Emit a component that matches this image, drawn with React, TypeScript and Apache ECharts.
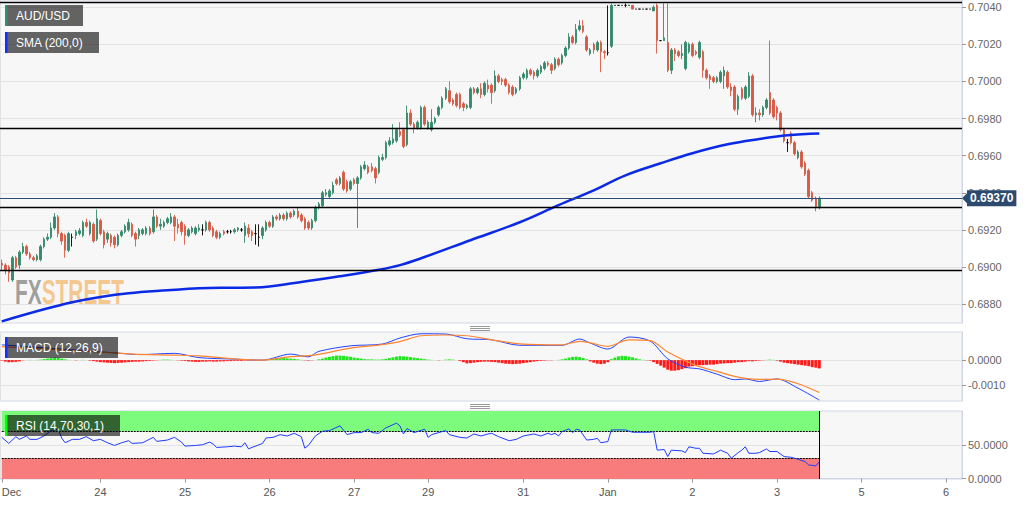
import React, { useEffect, useRef } from "react";
import * as echarts from "echarts";

// hourly candles, prices in pips (x 0.0001): [open, high, low, close]
const ohlc: number[][] = [
  [6902,6904,6898,6901],[6901,6902,6896,6898],[6900,6901,6892,6897],[6893,6906,6892,6905],[6905,6906,6899,6900],[6901,6909,6899,6908],
  [6908,6913,6907,6911],[6911,6912,6906,6907],[6907,6908,6904,6905],[6905,6906,6903,6904],[6904,6907,6903,6906],[6904,6912,6903,6911],
  [6911,6916,6910,6915],[6915,6918,6914,6916],[6916,6924,6915,6921],[6921,6929,6920,6927],[6927,6928,6916,6918],[6918,6919,6912,6914],
  [6917,6918,6905,6909],[6909,6919,6908,6918],[6916,6918,6911,6916],[6917,6920,6915,6919],[6918,6921,6917,6919.5],[6917,6925,6916,6924],
  [6924,6926,6921,6922],[6918,6925,6917,6924],[6923,6924,6913,6914],[6915,6931,6914,6926],[6925,6926,6917,6918],[6919,6920,6910,6912],
  [6915,6919,6913,6918],[6917,6918,6911,6913],[6916,6917,6910,6912],[6912,6918,6911,6917],[6917,6920,6916,6919],[6919,6923,6918,6922],
  [6920,6926,6919,6924],[6923,6924,6916,6917],[6918,6919,6911,6915],[6917,6921,6915,6920],[6918,6921,6917,6920],[6918,6922,6917,6921],
  [6921,6922,6917,6918],[6919,6931,6918,6927],[6927,6928,6921,6922],[6922,6926,6920,6923],[6922,6925,6921,6924],[6924,6927,6923,6926],
  [6924,6929,6923,6927],[6927,6928,6914,6922],[6923,6926,6918,6921],[6924,6925,6917,6919],[6922,6923,6912,6917],[6917,6921,6916,6920],
  [6919,6922,6918,6921],[6918,6922,6917,6921],[6920,6923,6919,6921],[6920,6923,6917,6920],[6920,6925,6919,6924],[6924,6925,6919,6920],
  [6921,6922,6916,6917],[6919,6920,6915,6916],[6916,6919,6915,6918],[6919,6920,6917,6918],[6919,6920,6918,6919],[6919,6920,6918,6919],
  [6919,6921,6918,6920],[6920,6921.5,6919,6921],[6920,6921,6919,6920],[6917,6924,6913,6922],[6921,6923,6916,6918],[6919,6920,6914,6917],
  [6918,6923,6912,6918],[6916,6923,6911,6916],[6917,6922,6915,6921],[6920,6925,6919,6924],[6924,6925,6921,6922],[6922,6928,6921,6927],
  [6927,6928,6925,6926],[6926,6929,6925,6928],[6928,6929,6925,6926],[6926,6930,6925,6929],[6929,6930,6926,6927],[6928,6931,6927,6930],
  [6930,6932,6926,6927],[6928,6929,6924,6925],[6926,6927,6920,6921],[6924,6925,6920,6921],[6921,6926,6920,6925],[6925,6933,6924,6932],
  [6932,6935,6931,6934],[6933,6941,6932,6940],[6939,6942,6938,6940],[6938,6942,6937,6941],[6940,6946,6939,6944],[6947,6948,6944,6945],
  [6945,6949,6944,6948],[6951,6952,6941,6942],[6946,6947,6940,6941],[6942,6947,6941,6946],[6947,6948,6944,6945],[6945,6949,6921,6948],
  [6948,6955,6947,6954],[6953,6957,6952,6955],[6954,6955,6950,6951],[6954,6956,6951,6952],[6953,6954,6945,6948],[6951,6960,6950,6959],
  [6958,6961,6957,6959],[6959,6968,6958,6967],[6966,6970,6965,6968],[6967,6977,6966,6969],[6968,6975,6967,6974],[6973,6978,6970,6971],
  [6974,6975,6964,6965],[6966,6987,6965,6983],[6983,6985,6976,6977],[6977,6978,6972,6975],[6975,6979,6974,6978],[6975,6987,6974,6986],
  [6986,6987,6976,6977],[6975,6979,6974,6978],[6974,6985,6973,6978],[6978,6981,6977,6980],[6982,6987,6981,6986],[6986,6992,6985,6991],
  [6991,6997,6990,6996],[6995,7000,6988,6989],[6990,6991,6987,6988],[6993,6994,6986,6987],[6993,6994,6985,6986],[6988,6989,6984,6986],
  [6986,6988,6985,6987],[6986,6997,6985,6996],[6996,6997,6993,6994],[6994,6997,6993,6996],[6996,6999,6991,6993],[6993,7000,6992,6999],
  [6998,7001,6994,6996],[6998,6999,6988,6994],[6995,7006,6994,7003],[7003,7004,6999,7000],[7001,7002,6998,7000],[7001,7002,6997,6998],
  [6998,6999,6993,6994],[6997,6998,6992,6993],[6994,6997,6993,6996],[6996,7003,6995,7002],[7002,7005,7001,7004],[7002,7007,7001,7006],
  [7006,7007,7003,7004],[7005,7006,7001,7003],[7003,7007,7002,7006],[7005,7009,7004,7008],[7007,7011,7006,7010],[7010,7011,7008,7009],
  [7009,7010,7004,7006],[7007,7013,7006,7012],[7012,7013,7008,7009],[7010,7015,7009,7014],[7014,7019,7013,7018],[7018,7026,7017,7024],
  [7024,7025,7020,7021],[7021,7031,7020,7028],[7028,7033,7027,7030],[7030,7033,7026,7027],[7024,7025,7016,7017],[7015,7018,7014,7017],
  [7020,7021,7015,7017],[7017,7022,7016,7021],[7021,7022,7005,7016],[7016,7017,7012,7015.5],[7015.5,7041,7014,7015.5],[7019,7042,7018,7041],
  [7041,7041,7041,7041],[7041,7041,7041,7041],[7041,7041,7041,7041],[7041,7042,7040,7041],[7041,7041,7041,7041],[7041,7041,7039,7039],
  [7039,7039,7039,7039],[7039,7039,7039,7039],[7039,7039,7039,7039],[7039,7039,7039,7039],[7039,7039,7039,7039],[7038,7041,7038,7040],
  [7041,7042,7015,7022],[7022,7022,7022,7022],[7022,7042,7022,7023.5],[7021,7042,7005,7006],[7006,7018,7004,7017],[7017,7018,7011,7015],
  [7016,7017,7013,7014],[7014,7020,7012,7015],[7007,7022,7006,7021],[7016,7021,7015,7020],[7020,7021,7013,7014],[7016,7017,7014,7015],
  [7013,7022,7012,7021],[7016,7017,7002,7006],[7006,7007,7001,7002],[7003,7004,6996,7001],[7002,7003,6999,7000],[7000,7003,6999,7002],
  [7000,7006,6999,7005],[7003,7008,6996,7006],[7005,7006,6996,6997],[6997,6999,6992,6995],[6997,6998,6984,6985],[6985,6993,6982,6992],
  [6996,6997,6990,6991],[6991,6998,6990,6997],[6992,7005,6991,7003],[7003,7004,6981,6982],[6982,6986,6978,6983],[6983,6985,6979,6982],
  [6982,6987,6981,6986],[6986,6991,6985,6990],[6994,7022,6982,6983],[6990,6991,6980,6981],[6986,6987,6979,6983],[6983,6984,6973,6974],
  [6974,6975,6967,6968],[6967,6969,6962,6967],[6972,6973,6966,6967],[6967,6968,6960,6961],[6959,6963,6958,6962],[6962,6963,6953,6954],
  [6956,6957,6949,6950],[6952,6953,6937,6938],[6940,6941,6935,6936],[6937,6938,6930,6932],[6932,6938,6931,6937],
];

// SMA(200) read at [candle index, pips]
const smaPts: number[][] = [
  [0,6870.7],[12,6877.2],[20,6881],[28,6883.8],[36,6885.8],[47,6887.4],[56,6888.5],[65,6888.8],[72,6888.9],
  [85,6891.9],[96,6895],[107,6898.5],[113,6901],[119,6904.7],[133,6914.4],[147,6924.1],[158,6933.3],[168,6941.3],
  [177,6949.4],[187,6955.9],[196,6961.3],[206,6966.1],[215,6969],[223,6971],[232,6971.9],
];

// MACD (12,26,9)
const macdIdx = [0,33,39,49,56,66,74,82,87,90,99,108,113,119,126,132,139,147,159,164,167,172,178,184,189,194,198,203,208,211,215,220,226,232];
const macdVal = [0.00061,0.00028,0.00022,0.00027,0.0001,0.00004,0,0.00024,0.00013,0.00035,0.00057,0.00064,0.00088,0.00105,0.00104,0.00085,0.00081,0.00059,0.00059,0.00084,0.00068,0.00044,0.00092,0.00076,0.00005,-0.00028,-0.00035,-0.00056,-0.00078,-0.00075,-0.00085,-0.00075,-0.00112,-0.00159];
const signalVal = [0.00054,0.00028,0.00023,0.0002,0.00017,0.00005,0,0.00014,0.00018,0.00023,0.00048,0.00062,0.00074,0.00097,0.001,0.00097,0.00081,0.00065,0.00061,0.00075,0.00069,0.00055,0.00081,0.00078,0.00032,-0.00003,-0.00026,-0.00045,-0.00065,-0.00073,-0.00077,-0.00076,-0.00094,-0.00129];
// histogram, one bar per candle, in units of 0.00001
const histVal = [
  -2, -6,-8,-8,-7,-5, -1,0,1,0,1,2, 4,6,8,10,9,6,3, 1,0,-1,0,1,0,-2,
  -4,-6,-8,-9,-10,-11,-12,-11,-10,-9,-8,-7,-6,-6,-5,-4,-3,-2,
  -1,1,2,2,1,0,-1,-2, -3,-5,-6,-7,-7,-6,-6,-5,-6,-6,-5,-5,-4,-4,
  -3,-3,-3,-2,-2,-2,-1,-1,0, 1,3,5,7,8,8,7,6,5,3,1, -1,-2,-1,
  0,3,6,10,13,16,18,18,17,15,13,10,8,6, 4,3,3,2,2,3, 5,8,11,14,16,15,14,12,10,8,6,4,
  2,1,0,-1,0,2,3,2,0, -3,-8,-13,-12,-10,-8,-7,-6,-6,-7,-8,-10,-12,-14,-15,-16,-15,
  -14,-12,-10,-8,-6,-4,-3, -2,-1,-1,0,1,3,6, 10,13,14,12,8,3, -5,-10,-14,-16,-14,-8,
  4,10,15,17,16,14,11,7,3, 1,-1,-2, -8,-15,-22,-30,-38,-42,-42,-40,-36,-32,-26,
  -24,-22,-20,-20,-19,-18,-18,-16,-14,-13,-12,-12,-10,-8,-8, -6,-4,-5,-3,-2,-1,1,2,1,-2,
  -6,-10,-12,-14,-16,-18,-20,-22,-24,-28,-30,-33,
];

// RSI (14) read at [candle index, value]
const rsiPts: number[][] = [
  [0,61],[2,52],[4,62],[5,58],[7,63],[8,58],[10,58],[12,63],[14,71],[16,73],[17,60],[18,53],[20,58],[22,58],[24,62],[26,56],
  [28,58],[30,53],[32,49],[34,53],[36,56],[37,52],[40,53],[43,61],[44,55],[47,57],[49,61],[51,54],[52,48],[55,49],[57,50],
  [59,54],[60,51],[61,46],[64,47],[66,48],[68,47],[69,53],[70,44],[72,48],[74,52],[75,60],[77,61],[79,65],[81,63],[83,67],
  [85,62],[86,45],[87,49],[89,63],[91,70],[93,71],[96,78],[98,65],[100,68],[102,68],[104,73],[105,68],[107,67],[109,75],
  [112,82],[113,78],[114,66],[115,74],[117,68],[120,73],[121,61],[122,65],[126,71],[127,65],[130,61],[132,60],[134,66],
  [136,63],[138,66],[139,67],[141,62],[144,56],[146,58],[148,63],[151,66],[153,63],[155,67],[156,65],[157,67],[158,63],
  [159,69.5],[161,73.5],[162,68],[163,73],[164,72],[166,57],[168,58],[169,59.6],[170,53],[172,54.7],[173,72],[177,72],
  [179,68.5],[184,68.5],[185,69.5],[186,42],[188,43],[189,32.5],[190,42],[193,41],[194,38.4],[195,47],[197,44.8],[198,44.8],
  [199,37.4],[202,36.4],[204,42],[206,37.4],[207,30],[209,38.4],[210,42],[211,47],[212,37.4],[214,37.4],[215,38.4],
  [217,43.8],[218,40],[220,40],[222,32.5],[224,31.5],[226,28.5],[228,25],[229,20],[230,19.6],[231,18.6],[232,25],
];

const levels = [0.70425, 0.69748, 0.69322, 0.68982];
const lastPrice = 0.6937;
const priceTicks = [0.688, 0.69, 0.692, 0.694, 0.696, 0.698, 0.7, 0.702, 0.704];
const macdTicks = [-0.001, 0];
const rsiTicks = [0, 50];
const tickIdx = [0, 28, 52, 76, 100, 121, 148, 172, 196, 220, 244, 268];
const tickLabels = ["Dec", "24", "25", "26", "27", "29", "31", "Jan", "2", "3", "5", "6"];
const SLOTS = 273;
const JAN_IDX = 172;

const UP = "#35896b";
const DOWN = "#d65a45";
const FONT = '"Liberation Sans", Arial, sans-serif';

export default function App() {
  const ref = useRef<HTMLDivElement>(null);
  useEffect(() => {
    document.body.style.margin = "0";
    const chart = echarts.init(ref.current!, null, { renderer: "svg" });
    const cats = Array.from({ length: SLOTS }, (_, i) => String(i));
    const lastIdx = ohlc.length - 1;
    const isTick = (i: number) => tickIdx.indexOf(i) >= 0;

    const gridBase = { left: 0, width: 962, show: true, backgroundColor: "#f7f7f7", borderColor: "#d3d8e5", borderWidth: 1, containLabel: false, outerBoundsMode: "none" };
    const xAxisFor = (gi: number) => ({
      type: "category", gridIndex: gi, data: cats, boundaryGap: true,
      axisLine: { show: gi === 2, lineStyle: { color: "#cfd5e3" } },
      axisTick: { show: gi === 2, interval: (i: number) => isTick(i), alignWithLabel: true, length: 4, lineStyle: { color: "#999" } },
      axisLabel: {
        show: gi === 2, interval: (i: number) => isTick(i), color: "#555", fontSize: 11, margin: 7, fontFamily: FONT,
        alignMinLabel: "left",
        formatter: (v: string) => { const k = tickIdx.indexOf(Number(v)); return k >= 0 ? tickLabels[k] : ""; },
      },
      splitLine: { show: true, interval: (i: number) => i === JAN_IDX, lineStyle: { color: "#e2e2e2" } },
    });
    const yAxisFor = (gi: number, min: number, max: number, ticks: number[]) => ({
      type: "value", gridIndex: gi, position: "right", min, max, scale: true,
      axisLine: { show: true, lineStyle: { color: "#cfd5e3" } },
      axisTick: { show: true, customValues: ticks, length: 4, lineStyle: { color: "#999" } },
      axisLabel: { customValues: ticks, formatter: (v: number) => v.toFixed(4), color: "#666", fontSize: 11, margin: 6, fontFamily: FONT },
      splitLine: { show: true, lineStyle: { color: "#e3e3e3" } },
    });

    const legendBox = (id: string, x: number, y: number, w: number, label: string, stripe: string) => ({
      id, type: "group", x, y, children: [
        { type: "rect", z: 100, shape: { x: 0, y: 0, width: w, height: 21 }, style: { fill: "rgba(0,0,0,0.6)" } },
        { type: "rect", z: 101, shape: { x: 0, y: 0, width: 2.5, height: 21 }, style: { fill: stripe } },
        { type: "text", z: 102, x: 11, y: 11, style: { text: label, fill: "#fff", font: `12px ${FONT}`, verticalAlign: "middle" } },
      ],
    });
    const handle = (id: string, y0: number) => [0, 2, 4].map((d) => ({
      id: id + d, type: "line", shape: { x1: 470, y1: y0 + d, x2: 490, y2: y0 + d }, style: { stroke: "#999", lineWidth: 1 }, z: 100,
    }));

    const option: any = {
      animation: false,
      textStyle: { fontFamily: FONT },
      grid: [
        { ...gridBase, top: 0, height: 323 },
        { ...gridBase, top: 332, height: 69 },
        { ...gridBase, top: 411, height: 68 },
      ],
      xAxis: [xAxisFor(0), xAxisFor(1), xAxisFor(2)],
      yAxis: [
        yAxisFor(0, 0.68698, 0.70439, priceTicks),
        yAxisFor(1, -0.001628, 0.00112, macdTicks),
        yAxisFor(2, -0.7, 100, rsiTicks),
      ],
      series: [
        {
          type: "candlestick", xAxisIndex: 0, yAxisIndex: 0, z: 3,
          data: ohlc.map(([o, h, l, c]) => [o / 1e4, c / 1e4, l / 1e4, h / 1e4]),
          barWidth: 2,
          itemStyle: { color: UP, color0: DOWN, borderColor: UP, borderColor0: DOWN, borderColorDoji: "#000", borderWidth: 0.9 },
          markLine: {
            silent: true, symbol: ["none", "none"], animation: false, precision: 6,
            data: [
              ...levels.map((v) => ({ yAxis: v, lineStyle: { color: "#000", width: 1.3, type: "solid" }, label: { show: false } })),
              {
                yAxis: lastPrice, lineStyle: { color: "#2d4d78", width: 1, type: "solid" },
                label: {
                  show: true, position: "end", distance: 5, formatter: lastPrice.toFixed(5),
                  color: "#fff", fontWeight: "bold", fontSize: 12, fontFamily: FONT,
                  backgroundColor: "#2c4a6e", padding: [2, 3, 2, 3],
                },
              },
            ],
          },
        },
        {
          type: "line", xAxisIndex: 0, yAxisIndex: 0, z: 4,
          data: smaPts.map(([i, v]) => [i, v / 1e4]),
          smooth: 0.4, showSymbol: false, lineStyle: { color: "#0a2ae6", width: 2.5 },
        },
        {
          type: "bar", xAxisIndex: 1, yAxisIndex: 1, barWidth: 3, z: 2,
          data: histVal.map((v) => ({ value: v / 1e5, itemStyle: { color: v >= 0 ? "#1fe61f" : "#ff1a1a" } })),
        },
        {
          type: "line", xAxisIndex: 1, yAxisIndex: 1, z: 3, showSymbol: false, smooth: 0.3,
          data: macdIdx.map((i, k) => [i, macdVal[k]]), lineStyle: { color: "#2244ff", width: 1 },
        },
        {
          type: "line", xAxisIndex: 1, yAxisIndex: 1, z: 4, showSymbol: false, smooth: 0.3,
          data: macdIdx.map((i, k) => [i, signalVal[k]]), lineStyle: { color: "#ff8530", width: 1.2 },
        },
        {
          type: "line", xAxisIndex: 2, yAxisIndex: 2, z: 5, showSymbol: false,
          data: rsiPts, lineStyle: { color: "#1f3cff", width: 1 },
          markArea: {
            silent: true,
            data: [
              [{ xAxis: 0, yAxis: 70, itemStyle: { color: "#7cfb7c" } }, { xAxis: lastIdx, yAxis: 100 }],
              [{ xAxis: 0, yAxis: -0.7, itemStyle: { color: "#f87c7c" } }, { xAxis: lastIdx, yAxis: 30 }],
            ],
          },
          markLine: {
            silent: true, symbol: ["none", "none"], label: { show: false }, precision: 4,
            data: [
              [{ coord: [0, 70], lineStyle: { color: "#000", width: 1, type: [2, 1] } }, { coord: [lastIdx, 70] }],
              [{ coord: [0, 30], lineStyle: { color: "#000", width: 1, type: [2, 1] } }, { coord: [lastIdx, 30] }],
              [{ coord: [lastIdx, -0.7], lineStyle: { color: "#000", width: 1, type: "solid" } }, { coord: [lastIdx, 100] }],
            ],
          },
        },
      ],
      graphic: {
        elements: [
          {
            id: "wm", type: "group", x: 15, y: 291, scaleX: 0.58, silent: true,
            children: [{
              type: "text", x: 0, y: 0, z: 1,
              style: {
                text: "{a|FX}{b|STREET}", verticalAlign: "middle",
                rich: {
                  a: { fill: "rgba(135,135,135,0.8)", fontSize: 36, fontWeight: "bold", fontFamily: FONT },
                  b: { fill: "rgba(244,184,112,0.75)", fontSize: 36, fontWeight: "bold", fontFamily: FONT },
                },
              },
            }],
          },
          legendBox("lg1", 5, 5, 78, "AUD/USD", "#2f8f6f"),
          legendBox("lg2", 5, 32, 94, "SMA (200,0)", "#1030ff"),
          legendBox("lg3", 5, 337, 113, "MACD (12,26,9)", "#1030ff"),
          legendBox("lg4", 5, 415, 115, "RSI (14,70,30,1)", "#00ff00"),
          ...handle("hA", 326.5),
          ...handle("hB", 404.5),
        ],
      },
    };
    chart.setOption(option);
    const py = chart.convertToPixel({ yAxisIndex: 0 }, lastPrice) as number;
    chart.setOption({
      graphic: { elements: [{ id: "arrow", type: "polygon", z: 100, shape: { points: [[962, py], [968, py - 6], [968, py + 6]] }, style: { fill: "#2c4a6e" } }] },
    });
    return () => chart.dispose();
  }, []);
  return <div ref={ref} style={{ position: "absolute", left: 0, top: 0, width: 1032, height: 505 }} />;
}
